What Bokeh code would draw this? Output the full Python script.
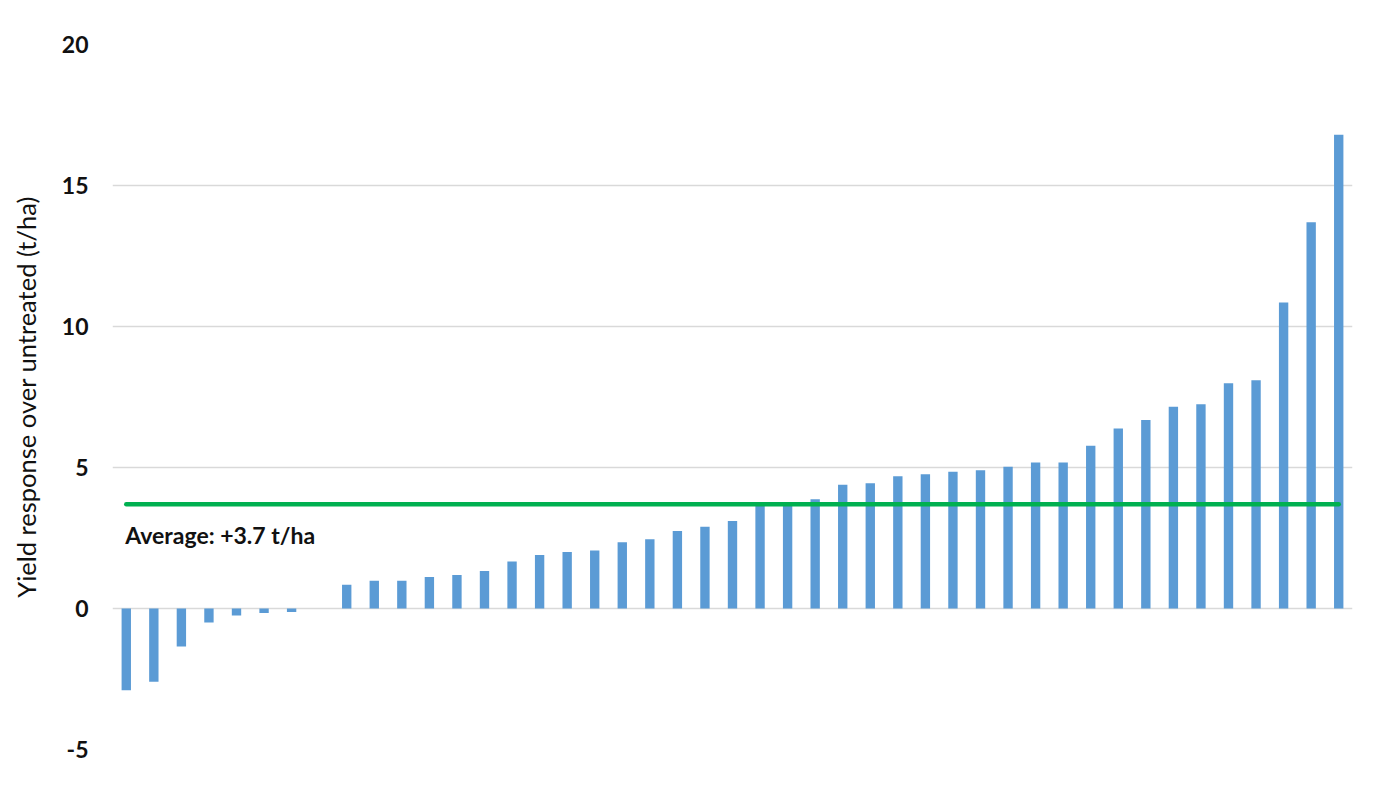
from bokeh.plotting import figure
from bokeh.models import FixedTicker, FactorRange, Range1d
from bokeh.core.properties import value
from bokeh.embed import file_html
from bokeh.resources import INLINE

trials = [str(i) for i in range(1, 46)]
yield_response = [-2.9, -2.6, -1.35, -0.5, -0.25, -0.16, -0.12, 0.0,
                  0.84, 0.98, 0.98, 1.12, 1.19, 1.33, 1.67, 1.9,
                  2.0, 2.06, 2.35, 2.46, 2.75, 2.9, 3.1, 3.68, 3.7,
                  3.87, 4.39, 4.44, 4.69, 4.76, 4.85, 4.9, 5.03, 5.18,
                  5.18, 5.77, 6.38, 6.68, 7.15, 7.24, 7.99, 8.09,
                  10.85, 13.7, 16.8]
average = 3.7
average_label = "Average: +3.7 t/ha"
y_ticks = [-5, 0, 5, 10, 15, 20]
y_title = "Yield response over untreated (t/ha)"

p = figure(width=1363, height=784, output_backend="svg", toolbar_location=None,
           x_range=FactorRange(*trials, range_padding=0), y_range=Range1d(-5, 20),
           min_border_left=112, min_border_right=11, min_border_top=44, min_border_bottom=35)
p.outline_line_color = None
p.background_fill_color = "white"
p.border_fill_color = "white"

p.vbar(x=trials, top=yield_response, width=0.34, fill_color="#5B9BD5",
       line_color=None)
p.line(x=[trials[0], trials[-1]], y=[average, average], line_color="#00B050",
       line_width=4.5, line_cap="round")
p.text(x=[trials[0]], y=[average], text=[average_label], x_offset=-1, y_offset=31,
       text_align="left", text_baseline="middle", text_font=value("Lato"),
       text_font_style="bold", text_font_size="23px", text_color="#111111")

p.xaxis.visible = False
p.xgrid.visible = False
p.ygrid.grid_line_color = "#D9D9D9"
p.ygrid.grid_line_width = 1.5
p.yaxis.ticker = FixedTicker(ticks=y_ticks)
p.yaxis.major_label_overrides = {t: str(t) for t in y_ticks}
p.yaxis.axis_line_color = None
p.yaxis.major_tick_line_color = None
p.yaxis.minor_tick_line_color = None
p.yaxis.major_label_text_font = "Lato"
p.yaxis.major_label_text_font_style = "bold"
p.yaxis.major_label_text_font_size = "23px"
p.yaxis.major_label_text_color = "#111111"
p.yaxis.major_label_standoff = 18
p.yaxis.axis_label = y_title
p.yaxis.axis_label_text_font = "Lato"
p.yaxis.axis_label_text_font_style = "normal"
p.yaxis.axis_label_text_font_size = "25.5px"
p.yaxis.axis_label_text_color = "#111111"
p.yaxis.axis_label_standoff = 18

open("out.html", "w").write(file_html(p, INLINE))
